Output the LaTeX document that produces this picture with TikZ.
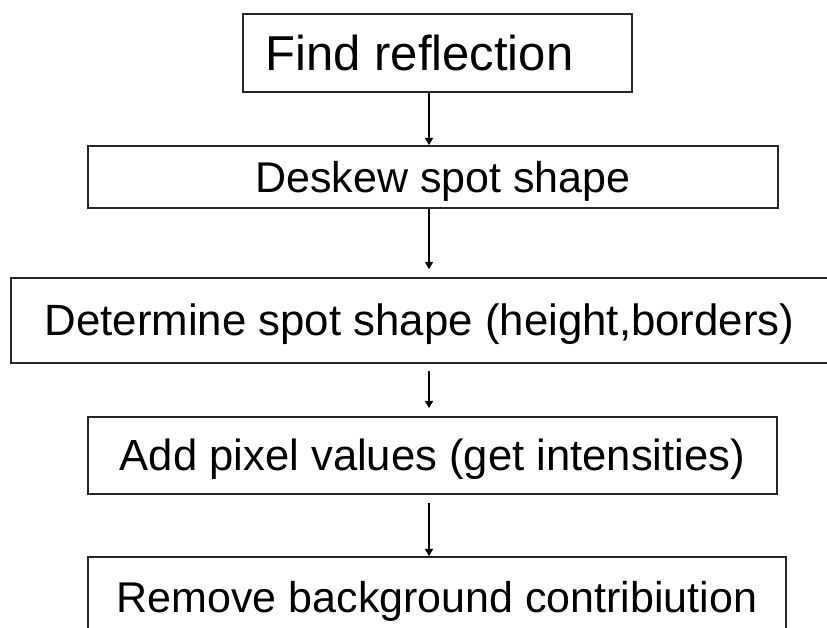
\documentclass[tikz,border=0pt]{standalone}
\usepackage{fontspec}
\setmainfont{Liberation Sans}
\usetikzlibrary{arrows.meta}

\begin{document}
\begin{tikzpicture}[
    x=0.5pt, y=-0.5pt,
    stepbox/.style={draw=black!85, line width=0.9pt, align=center, inner sep=0pt,
                    font=\fontsize{21.5}{26}\selectfont, text height=15.4pt, text depth=0pt},
    arr/.style={-{Triangle[length=3.6pt, width=4pt]}, line width=0.75pt}
]
\useasboundingbox (0,0) rectangle (827,628);
\clip (0,0) rectangle (827,628);
\coordinate (spine) at (429,0);

\node[stepbox, minimum width=194.5pt, minimum height=39pt,
      font=\fontsize{24.5}{29}\selectfont, text height=17.5pt] (find) at (437.5,53)
      {Find reflection\hspace*{18pt}};
\node[stepbox, minimum width=345pt, minimum height=31pt] (deskew) at (433,177)
      {\hspace*{10pt}Deskew spot shape};
\node[stepbox, minimum width=408.5pt, minimum height=42.5pt,
      font=\fontsize{21.9}{26}\selectfont] (determine) at (419.5,320.5)
      {Determine spot shape (height,borders)};
\node[stepbox, minimum width=344.5pt, minimum height=38.5pt,
      font=\fontsize{21.8}{26}\selectfont] (add) at (432.5,455.5)
      {Add pixel values (get intensities)};
\node[stepbox, minimum width=349pt, minimum height=40pt] (remove) at (437,597)
      {Remove background contribiution};

\draw[arr] (find.south -| spine) -- (deskew.north -| spine);
\draw[arr, shorten >=4pt] (deskew.south -| spine) -- (determine.north -| spine);
\draw[arr, shorten <=3.5pt, shorten >=4pt] (determine.south -| spine) -- (add.north -| spine);
\draw[arr, shorten <=4pt] (add.south -| spine) -- (remove.north -| spine);
\end{tikzpicture}
\end{document}
